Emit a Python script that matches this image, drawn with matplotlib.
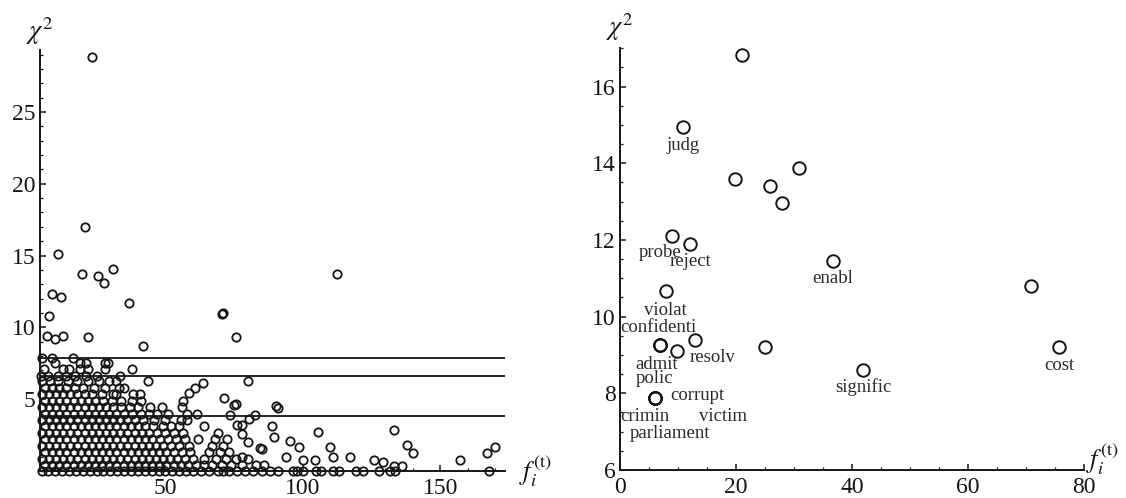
import numpy as np
import matplotlib.pyplot as plt
from matplotlib.ticker import MultipleLocator

plt.rcParams['font.family'] = ['Liberation Serif', 'DejaVu Serif']
plt.rcParams['mathtext.fontset'] = 'stix'

# ---------------- panel izquierdo: todos los terminos ----------------
# filas densas (nivel de chi^2 -> frecuencias leidas aprox.)
row_levels = [0.0, 0.4, 0.85, 1.3, 1.75, 2.2, 2.65, 3.1, 3.55, 4.0, 4.45, 4.9,
              5.35, 5.8, 6.25, 6.65, 7.1, 7.5, 7.9]
row_f = [
    [5, 7.5, 10, 12.5, 15, 17.5, 20, 22.5, 25, 27.5, 30, 32.5, 35, 37.5, 40, 42.5, 45, 47.5,
     50, 52.5, 55, 57.5, 60, 63, 66, 69, 71, 73, 76, 79, 82, 85, 88, 91, 96.5, 98, 100,
     104.7, 106.5, 111, 113, 119.3, 121.8, 127.6, 131.8, 133.5, 167.6],
    [6.2, 8.8, 11.4, 14, 16.6, 19.2, 21.8, 24.4, 27, 29.6, 32.2, 34.8, 37.4, 40, 42.6, 45.2,
     47.8, 50.4, 53, 55.6, 58.2, 61, 64, 67, 70.5, 74, 78, 83, 86],
    [5, 7.6, 10.2, 12.8, 15.4, 18, 20.6, 23.2, 25.8, 28.4, 31, 33.6, 36.2, 38.8, 41.4, 44,
     46.6, 49.2, 51.8, 54.4, 57, 60, 64, 68.5, 72, 75.5, 80],
    [6.2, 8.8, 11.4, 14, 16.6, 19.2, 21.8, 24.4, 27, 29.6, 32.2, 34.8, 37.4, 40, 42.6, 45.2,
     47.8, 50.4, 53, 56, 59, 66, 70, 73],
    [5, 7.6, 10.2, 12.8, 15.4, 18, 20.6, 23.2, 25.8, 28.4, 31, 33.6, 36.2, 38.8, 41.4, 44,
     46.6, 49.2, 52, 55, 58.5, 67, 71],
    [6.2, 8.8, 11.4, 14, 16.6, 19.2, 21.8, 24.4, 27, 29.6, 32.2, 34.8, 37.4, 40, 42.6, 45.2,
     48, 51, 54, 57, 62, 68, 72.5],
    [5, 7.6, 10.2, 12.8, 15.4, 18, 20.6, 23.2, 25.8, 28.4, 31, 33.6, 36.2, 38.8, 41.4, 44,
     47, 50, 53, 56.5, 69],
    [6.2, 8.8, 11.4, 14, 16.6, 19.2, 21.8, 24.4, 27, 29.6, 32.2, 34.8, 37.4, 40, 42.6, 45.5,
     49, 52, 55, 64],
    [5, 7.6, 10.2, 12.8, 15.4, 18, 20.6, 23.2, 25.8, 28.4, 31, 33.6, 36.2, 38.8, 42, 46, 50,
     55.5, 58],
    [6.2, 8.8, 11.4, 14, 16.6, 19.2, 21.8, 24.4, 27, 29.6, 32.2, 35, 38, 41, 44, 47, 51, 58,
     61.5],
    [5, 7.6, 10.2, 12.8, 15.4, 18, 20.6, 23.2, 25.8, 28.4, 31, 34, 37, 40, 44.5, 48.7, 56],
    [6.2, 8.8, 11.4, 14, 16.6, 19.2, 21.8, 24.4, 27.5, 30.5, 34, 38, 41],
    [5, 7.6, 10.2, 12.8, 15.4, 18, 20.6, 23.5, 27, 31, 32.2, 38.3, 40.8],
    [6.2, 8.8, 11.4, 14, 17, 20, 24, 28, 33, 35],
    [5, 8, 11, 14.5, 18, 22, 26, 29.5, 32, 43.7],
    [4.6, 7.5, 11, 14, 17, 21, 25, 33.5],
    [6, 12.7, 15, 19, 22, 28, 37.8],
    [10, 19, 21, 28, 29],
    [5.2, 8.7, 16.5],
]

# puntos dispersos
sparse_f = [23.3, 20.7, 10.9, 19.6, 25.5, 27.6, 30.9, 8.7, 12.0, 36.7, 7.6, 70.5, 70.8,
            112.4, 21.8, 41.8, 75.6, 6.9, 9.8, 12.7,
            88.7, 89.5, 95.3, 98.5, 105.5, 110, 133, 137.8, 140, 157, 167, 170, 117, 126,
            129, 94, 100, 104.4, 111, 133, 136, 91, 90.2, 85, 82.5, 73.5, 75.6, 80, 78, 76,
            56.4, 58.5, 60.7, 63.6, 71.3, 74.9, 77.8, 80.4, 84.4, 78, 80]
sparse_chi = [28.8, 17.0, 15.1, 13.75, 13.6, 13.1, 14.1, 12.3, 12.1, 11.7, 10.8, 10.9, 11.0,
              13.7, 9.3, 8.7, 9.3, 9.4, 9.2, 9.4,
              3.1, 2.4, 2.1, 1.7, 2.7, 1.7, 2.85, 1.8, 1.25, 0.76, 1.25, 1.7, 1.0, 0.8,
              0.6, 1.0, 0.8, 0.8, 1.0, 0.35, 0.35, 4.4, 4.5, 1.5, 3.9, 3.9, 4.65, 2.0, 2.6, 3.2,
              4.86, 5.4, 5.76, 6.1, 5.07, 4.58, 3.19, 3.61, 1.6, 1.0, 6.3]

# valores criticos de chi^2 (p = 0.05, 0.01, 0.005)
umbrales = [3.84, 6.63, 7.88]

# ---------------- panel derecho: terminos seleccionados ----------------
r_f = [21, 10.9, 19.8, 25.9, 27.9, 30.9, 9.0, 12.1, 36.7, 7.9, 70.9, 75.7, 41.9,
       6.9, 6.9, 6.9, 9.8, 12.9, 25.0, 6.0, 6.0, 6.0, 6.0]
r_chi = [16.83, 14.94, 13.58, 13.4, 12.96, 13.87, 12.1, 11.9, 11.45, 10.68, 10.8, 9.2, 8.6,
         9.25, 9.25, 9.25, 9.1, 9.38, 9.22, 7.87, 7.87, 7.87, 7.87]
r_words = ['', 'judg', '', '', '', '', 'probe', 'reject', 'enabl', 'violat', '', 'cost',
           'signific', 'confidenti', 'admit', 'polic', '', 'resolv', '', 'corrupt',
           'crimin', 'victim', 'parliament']
# desplazamiento de cada etiqueta respecto a su punto
r_dx = [0, 0, 0, 0, 0, 0, -2.1, 0, 0, 0, 0, 0, 0, -0.3, -0.5, -1.0, 0, 3.0, 0, 7.4, -1.7,
        11.7, 2.6]
r_dy = [0, -0.47, 0, 0, 0, 0, -0.44, -0.45, -0.45, -0.52, 0, -0.47, -0.44, 0.46, -0.5,
        -0.86, 0, -0.45, 0, 0.08, -0.47, -0.47, -0.91]

ink = '#151515'
fig = plt.figure(figsize=(11.26, 4.98), dpi=100)


def estilo(ax):
    for s in ['top', 'right']:
        ax.spines[s].set_visible(False)
    for s in ['left', 'bottom']:
        ax.spines[s].set_linewidth(1.4)
        ax.spines[s].set_color(ink)
    ax.tick_params(which='both', direction='in', colors=ink, labelsize=17)
    ax.tick_params(axis='x', pad=5)
    ax.tick_params(axis='y', pad=3)
    ax.tick_params(which='major', length=4, width=1.1)
    ax.tick_params(which='minor', length=2, width=0.9)


# ----- izquierda
ax1 = fig.add_axes([0.0355, 0.0542, 0.413, 0.845])
lf, lc = [], []
for nivel, xs in zip(row_levels, row_f):
    lf += xs
    lc += [nivel] * len(xs)
lf += sparse_f
lc += sparse_chi
ax1.plot(lf, lc, 'o', ms=6.0, mfc='none', mec=ink, mew=1.3, clip_on=False)
ax1.hlines(umbrales, 4.4, 173.5, colors=ink, lw=1.3)
ax1.set_xlim(4.4, 173.5)
ax1.set_ylim(0, 29.3)
ax1.set_xticks([50, 100, 150])
ax1.set_yticks([5, 10, 15, 20, 25])
ax1.xaxis.set_minor_locator(MultipleLocator(10))
ax1.yaxis.set_minor_locator(MultipleLocator(1))
estilo(ax1)
ax1.text(0.0, 1.045, r'$\chi^2$', transform=ax1.transAxes, ha='center', va='center',
         fontsize=19, color=ink)
ax1.text(1.03, 0.0, r'$f_i^{(\mathrm{t})}$', transform=ax1.transAxes, ha='left',
         va='center', fontsize=19, color=ink)

# ----- derecha
ax2 = fig.add_axes([0.5506, 0.0562, 0.412, 0.847])
ax2.plot(r_f, r_chi, 'o', ms=9, mfc='none', mec=ink, mew=1.4, clip_on=False)
for x, y, w, dx, dy in zip(r_f, r_chi, r_words, r_dx, r_dy):
    if w:
        ax2.text(x + dx, y + dy, w, ha='center', va='center', fontsize=13.5, color='#2a2a2a',
                 clip_on=True)
ax2.set_xlim(0, 80)
ax2.set_ylim(6, 17)
ax2.set_xticks([0, 20, 40, 60, 80])
ax2.set_yticks([6, 8, 10, 12, 14, 16])
ax2.xaxis.set_minor_locator(MultipleLocator(5))
ax2.yaxis.set_minor_locator(MultipleLocator(0.5))
estilo(ax2)
ax2.text(0.0, 1.05, r'$\chi^2$', transform=ax2.transAxes, ha='center', va='center',
         fontsize=19, color=ink)
ax2.text(1.005, 0.025, r'$f_i^{(\mathrm{t})}$', transform=ax2.transAxes, ha='left',
         va='center', fontsize=19, color=ink)

fig.savefig('out.png', dpi=100)
